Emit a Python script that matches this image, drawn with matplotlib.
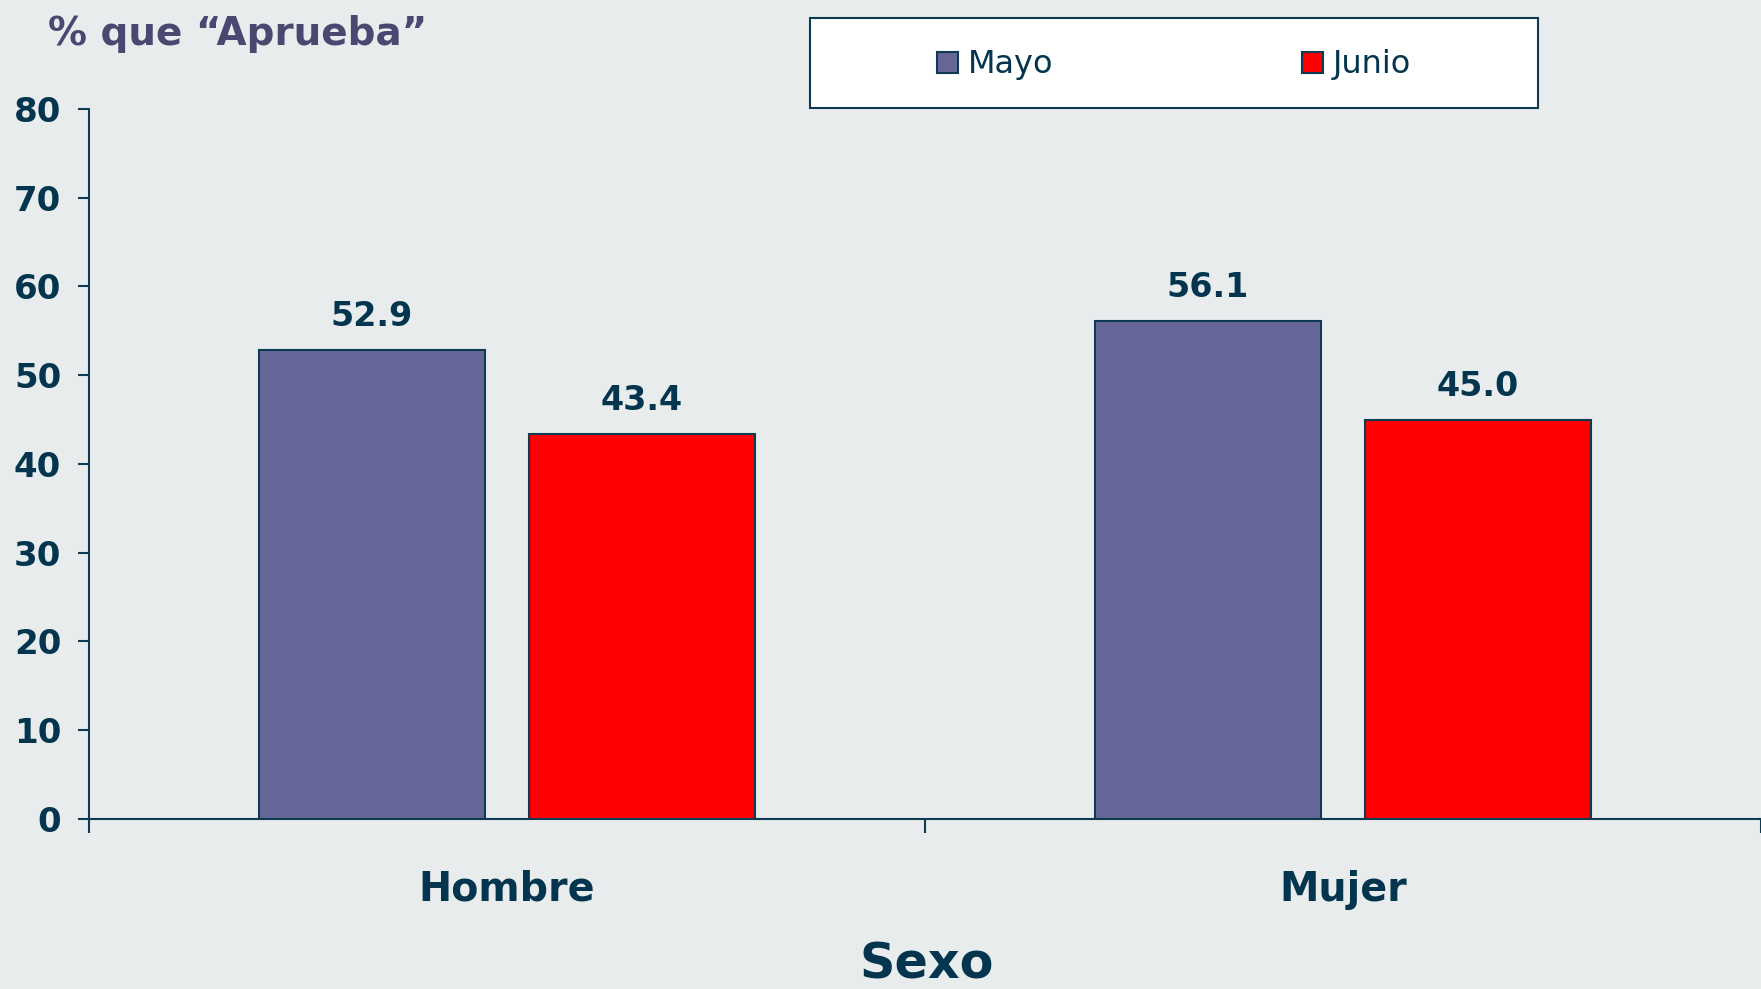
import matplotlib
matplotlib.use('Agg')
import matplotlib.pyplot as plt
import matplotlib.transforms as mtransforms
from matplotlib.patches import Patch, Rectangle
import numpy as np

categories = ['Hombre', 'Mujer']
series_names = ['Mayo', 'Junio']
mayo = [52.9, 56.1]
junio = [43.4, 45.0]
y_ticks = [0, 10, 20, 30, 40, 50, 60, 70, 80]

bg = '#E8ECED'
navy = '#03354E'
line_c = '#0E3B52'
colors = ['#666699', '#FF0000']

plt.rcParams['font.family'] = ['DejaVu Sans']

fig = plt.figure(figsize=(17.61, 9.89), dpi=100, facecolor=bg)
ax = fig.add_axes([0.0505, 0.1719, 0.9495, 0.7179], facecolor=bg)

x = np.arange(len(categories)) + 0.5
width = 0.271
offset = 0.1615
for vals, col, sgn in zip([mayo, junio], colors, [-1, 1]):
    bars = ax.bar(x + sgn * offset, vals, width, color=col, edgecolor=line_c, linewidth=1.5, zorder=3)
    for b, v in zip(bars, vals):
        ax.annotate(f'{v:.1f}', (b.get_x() + b.get_width() / 2, v), xytext=(0, 12),
                    textcoords='offset points', ha='center', va='bottom',
                    fontsize=24, fontweight='bold', color=navy)

ax.set_xlim(0, len(categories))
ax.set_ylim(0, 80)
ax.set_yticks(y_ticks)
ax.set_xticks(np.arange(len(categories) + 1))
ax.set_xticklabels([])
for s in ['top', 'right']:
    ax.spines[s].set_visible(False)
for s in ['left', 'bottom']:
    ax.spines[s].set_color(line_c)
    ax.spines[s].set_linewidth(1.5)
ax.tick_params(axis='y', length=8, width=1.5, color=line_c, pad=12,
               labelsize=24.5, labelcolor=navy)
ax.tick_params(axis='x', length=10, width=1.5, color=line_c)
for lab in ax.get_yticklabels():
    lab.set_fontweight('bold')

# category labels and axis title
trans = mtransforms.blended_transform_factory(ax.transData, fig.transFigure)
for xi, c in zip(x, categories):
    ax.text(xi, 0.089, c, transform=trans, ha='center', va='baseline',
            fontsize=28.5, fontweight='bold', color=navy)
fig.text(0.526, 0.011, 'Sexo', ha='center', va='baseline', fontsize=35.5,
         fontweight='bold', color=navy)

fig.text(0.0273, 0.9545, '% que \u201cAprueba\u201d', ha='left', va='baseline',
         fontsize=28, fontweight='bold', color='#4A4870')

# legend box
fig.patches.append(Rectangle((810 / 1761, 1 - 108 / 989), 728 / 1761, 90 / 989,
                             transform=fig.transFigure, facecolor='white',
                             edgecolor=line_c, linewidth=1.5, zorder=1))
handles = [Patch(facecolor=c, edgecolor=line_c, linewidth=1.5) for c in colors]
leg = fig.legend(handles, series_names, loc='center', bbox_to_anchor=(1174 / 1761, 1 - 65 / 989),
                 ncol=2, frameon=False, handlelength=0.65, handleheight=0.65,
                 handletextpad=0.3, columnspacing=7.8,
                 prop={'family': ['DejaVu Sans'], 'size': 23})
for t in leg.get_texts():
    t.set_color(navy)
leg.set_zorder(5)

fig.savefig('out.png', dpi=100, facecolor=bg)
